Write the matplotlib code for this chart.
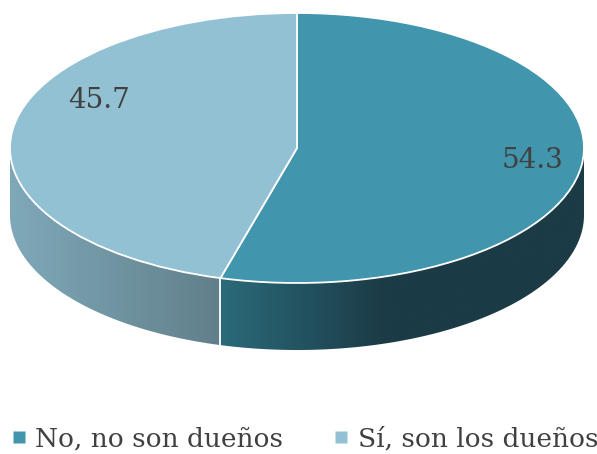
import numpy as np
import matplotlib.pyplot as plt
from matplotlib.lines import Line2D
from matplotlib.patches import Polygon
from matplotlib.colors import LinearSegmentedColormap

# ── Data ──────────────────────────────────────────────────────────────────────
labels = ["No, no son dueños", "Sí, son los dueños"]
values = [54.3, 45.7]
value_text = ["54.3", "45.7"]

top_colors = ["#4195AD", "#92C1D3"]
side_grad = [("#2B6A7A", "#1B3B46"), ("#7FA9B9", "#617F8A")]

W, H = 597, 454
cx, cy, rx, ry, depth = 297, 148, 287, 135, 67  # pixels

plt.rcParams['font.family'] = ['DejaVu Serif']

fig = plt.figure(figsize=(W / 100, H / 100), dpi=100)
ax = fig.add_axes([0, 0, 1, 1])

# unit circle -> ellipse via non-equal aspect limits
ax.pie(values, colors=top_colors, startangle=90, counterclock=False, radius=1,
       wedgeprops=dict(edgecolor='white', linewidth=1.3), frame=False)
ax.set_aspect('auto')
ax.set_axis_off()
d = depth / ry

# ── Side walls (front half only) ──────────────────────────────────────────────
b = (90 - 360 * values[0] / sum(values)) % 360   # boundary angle
ranges = [(b, 360), (180, b)]  # dark slice, light slice
for i, ((a0, a1), (c0, c1)) in enumerate(zip(ranges, side_grad)):
    t = np.radians(np.linspace(a0, a1, 200))
    xs, ys = np.cos(t), np.sin(t)
    verts = np.concatenate([np.column_stack([xs, ys]),
                            np.column_stack([xs[::-1], ys[::-1] - d])])
    poly = Polygon(verts, closed=True, facecolor='none', edgecolor='none')
    ax.add_patch(poly)
    grad = np.linspace(0, 1, 256).reshape(1, -1)
    if i == 0:
        grad = np.clip(grad * 2.2, 0, 1)  # dark side darkens quickly
    cmap = LinearSegmentedColormap.from_list("g", [c0, c1])
    im = ax.imshow(grad, cmap=cmap, extent=[xs.min(), xs.max(), ys.min() - d, ys.max()],
                   aspect='auto', zorder=0.5, interpolation='bicubic')
    im.set_clip_path(poly)

# white seam on the side at the slice boundary
tb = np.radians(b)
ax.plot([np.cos(tb)] * 2, [np.sin(tb), np.sin(tb) - d], color='white', lw=1.3, zorder=3)
ax.set_xlim(-cx / rx, (W - cx) / rx)
ax.set_ylim((cy - H) / ry, cy / ry)

# ── Value labels ──────────────────────────────────────────────────────────────
pos = [(533, 168), (99, 108)]  # pixel centre x, baseline y
for (px, py), txt in zip(pos, value_text):
    ax.text((px - cx) / rx, (cy - py) / ry, txt, ha='center', va='baseline',
            fontsize=20, color='#404040')

# ── Legend ────────────────────────────────────────────────────────────────────
handles = [Line2D([], [], marker='s', linestyle='none', markersize=8,
                  markerfacecolor=c, markeredgecolor='none') for c in top_colors]
fig.legend(handles, labels, loc='center left', bbox_to_anchor=(10.6 / W, 1 - 439 / H),
           ncol=2, frameon=False, fontsize=19, handlelength=0.6, handletextpad=0.33,
           columnspacing=1.9, borderpad=0, borderaxespad=0, labelcolor='#404040')

plt.savefig("out.png", dpi=100)
